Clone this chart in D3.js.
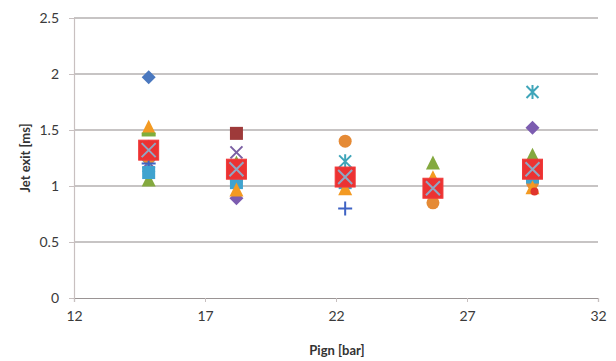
<!DOCTYPE html>
<html><head><meta charset="utf-8">
<script src="https://cdn.jsdelivr.net/npm/d3@7/dist/d3.min.js"></script>
<style>body{margin:0;background:#fff}svg{display:block}</style>
</head><body>
<script>
// Data
const pressures = [14.85, 18.2, 22.35, 25.7, 29.5];
const xTicks = [12, 17, 22, 27, 32];
const yTicks = [0, 0.5, 1, 1.5, 2, 2.5];
const yTickLabels = ["0", "0.5", "1", "1.5", "2", "2.5"];
const s1 = [1.97, 1.12, 1.02, 0.95, 1.10];
const s2 = [1.30, 1.47, 1.05, 0.97, 1.12];
const s3 = [1.05, 1.20, 1.10, 1.20, 1.27];
const s4 = [1.21, 1.30, 1.12, 0.98, 1.10];
const s5 = [1.18, 1.10, 1.22, 1.00, 1.84];
const s6 = [1.25, 1.05, 1.40, 0.85, 1.03];
const s7 = [1.20, 1.12, 0.80, 1.00, 1.12];
const s8 = [1.35, 0.89, 1.08, 0.97, 1.52];
const s9 = [1.12, 1.03, 1.03, 0.96, 1.08];
const s10 = [1.52, 0.96, 0.97, 1.07, 0.98];
const s11 = [1.46, 1.15, 1.08, 0.98, 1.15];
const s12 = [1.32, 1.15, 1.08, 0.98, 0.95];
const meanVals = [1.32, 1.15, 1.08, 0.98, 1.15];
const seriesList = [
  {v: s1, m: "diamond", c: "#4a78bf"},
  {v: s2, m: "square", c: "#9e3a3a"},
  {v: s3, m: "triangle", c: "#84a93f"},
  {v: s4, m: "x", c: "#7a5fa3"},
  {v: s5, m: "asterisk", c: "#3fa5b9"},
  {v: s6, m: "circle", c: "#e58a35"},
  {v: s7, m: "plus", c: "#3f63c4"},
  {v: s8, m: "diamond", c: "#7c5cb0"},
  {v: s9, m: "square", c: "#3fa3cf"},
  {v: s10, m: "triangle", c: "#f39a22"},
  {v: s11, m: "dash", c: "#7fae3c"},
  {v: s12, m: "smallcircle", c: "#e0352c"}
];

const W = 616, H = 361;
const svg = d3.select("body").append("svg").attr("width", W).attr("height", H);
const x = d3.scaleLinear().domain([12, 32]).range([74, 598]);
const y = d3.scaleLinear().domain([0, 2.5]).range([298, 18]);
const font = "Lato, 'Open Sans', sans-serif";

// gridlines
svg.append("g").selectAll("line").data(yTicks.filter(d => d > 0)).join("line")
  .attr("x1", x(12)).attr("x2", x(32))
  .attr("y1", d => y(d)).attr("y2", d => y(d))
  .attr("stroke", "#8f8a8a").attr("stroke-width", 1.2);

// y axis
const ya = svg.append("g").attr("transform", `translate(${x(12)},0)`)
  .call(d3.axisLeft(y).tickValues(yTicks).tickFormat((d, i) => yTickLabels[i]).tickSize(5).tickPadding(10));
ya.select(".domain").attr("stroke", "#c8c0c0").attr("stroke-width", 1.2);
ya.selectAll(".tick line").attr("stroke", "#c8c0c0");
ya.selectAll("text").attr("font-family", font).attr("font-size", 14).attr("fill", "#3a3a3a");

// x axis
const xa = svg.append("g").attr("transform", `translate(0,${y(0)})`)
  .call(d3.axisBottom(x).tickValues(xTicks).tickFormat(d3.format("d")).tickSize(4).tickPadding(9));
xa.select(".domain").attr("stroke", "#9a9494").attr("stroke-width", 1.2);
xa.selectAll(".tick line").attr("stroke", "#c8c0c0");
xa.selectAll("text").attr("font-family", font).attr("font-size", 14).attr("fill", "#3a3a3a");

// titles
svg.append("text").attr("x", 337).attr("y", 355).attr("text-anchor", "middle")
  .attr("font-family", font).attr("font-size", 13).attr("font-weight", "bold").attr("fill", "#333")
  .text("Pign [bar]");
svg.append("text").attr("transform", `translate(30,158) rotate(-90)`).attr("text-anchor", "middle")
  .attr("font-family", font).attr("font-size", 13).attr("font-weight", "bold").attr("fill", "#333")
  .text("Jet exit [ms]");

function drawMarker(g, type, cx, cy, c) {
  const s = 7;
  if (type === "diamond") {
    g.append("path").attr("d", `M${cx},${cy - s}L${cx + s},${cy}L${cx},${cy + s}L${cx - s},${cy}Z`).attr("fill", c);
  } else if (type === "square") {
    g.append("rect").attr("x", cx - 6.5).attr("y", cy - 6.5).attr("width", 13).attr("height", 13).attr("fill", c);
  } else if (type === "triangle") {
    g.append("path").attr("d", `M${cx},${cy - 8}L${cx + 7},${cy + 6}L${cx - 7},${cy + 6}Z`).attr("fill", c);
  } else if (type === "circle") {
    g.append("circle").attr("cx", cx).attr("cy", cy).attr("r", 6.5).attr("fill", c);
  } else if (type === "smallcircle") {
    g.append("circle").attr("cx", cx + 2).attr("cy", cy).attr("r", 4).attr("fill", c);
  } else if (type === "dash") {
    g.append("rect").attr("x", cx - 7).attr("y", cy - 2).attr("width", 14).attr("height", 4).attr("fill", c);
  } else if (type === "x") {
    g.append("path").attr("d", `M${cx - 6},${cy - 6}L${cx + 6},${cy + 6}M${cx + 6},${cy - 6}L${cx - 6},${cy + 6}`)
      .attr("stroke", c).attr("stroke-width", 2);
  } else if (type === "plus") {
    g.append("path").attr("d", `M${cx - 7},${cy}L${cx + 7},${cy}M${cx},${cy - 7}L${cx},${cy + 7}`)
      .attr("stroke", c).attr("stroke-width", 2);
  } else if (type === "asterisk") {
    g.append("path").attr("d", `M${cx - 6},${cy - 6}L${cx + 6},${cy + 6}M${cx + 6},${cy - 6}L${cx - 6},${cy + 6}M${cx},${cy - 7}L${cx},${cy + 7}`)
      .attr("stroke", c).attr("stroke-width", 2);
  }
}

const marks = svg.append("g");
seriesList.forEach(s => {
  s.v.forEach((v, i) => {
    if (v == null) return;
    drawMarker(marks, s.m, x(pressures[i]), y(v), s.c);
  });
});

// mean markers
const mg = svg.append("g");
meanVals.forEach((v, i) => {
  const cx = x(pressures[i]), cy = y(v);
  mg.append("rect").attr("x", cx - 10).attr("y", cy - 10).attr("width", 20).attr("height", 20)
    .attr("fill", "#ec3232").attr("stroke", "#f03a3a").attr("stroke-width", 1);
  mg.append("path").attr("d", `M${cx - 7},${cy - 7}L${cx + 7},${cy + 7}M${cx + 7},${cy - 7}L${cx - 7},${cy + 7}`)
    .attr("stroke", "#8fa7c4").attr("stroke-width", 2);
});
</script>
</body></html>
